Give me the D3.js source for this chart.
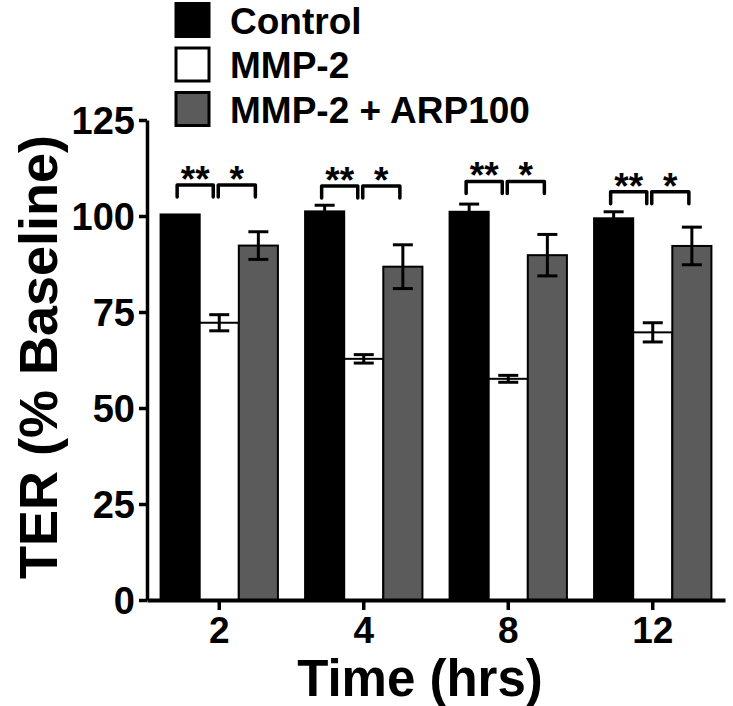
<!DOCTYPE html>
<html>
<head>
<meta charset="utf-8">
<script src="https://cdn.jsdelivr.net/npm/d3@7"></script>
<style>
  html, body { margin: 0; padding: 0; background: #fff; }
  svg { display: block; }
  text { font-family: "Liberation Sans", Arial, sans-serif; font-weight: bold; fill: #000; }
</style>
</head>
<body>
<svg id="chart" width="733" height="706"></svg>
<script>
// ---- data ----
const categories = ["2", "4", "8", "12"];
const seriesNames = ["Control", "MMP-2", "MMP-2 + ARP100"];
const controlMean = [100.4, 101.2, 101.1, 99.4];
const controlErr  = [0, 1.6, 2.0, 1.7];
const mmpMean     = [72.2, 62.8, 57.6, 69.7];
const mmpErr      = [2.1, 1.1, 0.9, 2.5];
const arpMean     = [92.3, 86.8, 89.8, 92.2];
const arpErr      = [3.6, 5.7, 5.4, 4.9];
const yTicks      = [0, 25, 50, 75, 100, 125];
const bracketY    = [108.1, 107.8, 109.0, 106.3];
const leftStars   = ["**", "**", "**", "**"];
const rightStars  = ["*", "*", "*", "*"];
const seriesColors = ["#000000", "#ffffff", "#5b5b5b"];

const svg = d3.select("#chart");

const x = d3.scaleBand().domain(categories).range([147, 725]).paddingInner(0.188).paddingOuter(0.094);
const xs = d3.scaleBand().domain(seriesNames).range([0, x.bandwidth()]);
const y = d3.scaleLinear().domain([0, 125]).range([600, 120]);

const means = [controlMean, mmpMean, arpMean];
const errs = [controlErr, mmpErr, arpErr];

const rows = [];
seriesNames.forEach((s, si) => {
  categories.forEach((c, ci) => {
    rows.push({ s, si, c, ci, v: means[si][ci], e: errs[si][ci] });
  });
});

// bars
svg.append("g").selectAll("rect").data(rows).join("rect")
  .attr("x", d => x(d.c) + xs(d.s))
  .attr("y", d => y(d.v))
  .attr("width", xs.bandwidth())
  .attr("height", d => y(0) - y(d.v))
  .attr("fill", d => seriesColors[d.si])
  .attr("stroke", "#000")
  .attr("stroke-width", 2);

// error bars
const capW = 10;
const eg = svg.append("g").attr("stroke", "#000").attr("stroke-width", 3);
rows.filter(d => d.e > 0).forEach(d => {
  const cx = x(d.c) + xs(d.s) + xs.bandwidth() / 2;
  eg.append("line").attr("x1", cx).attr("x2", cx).attr("y1", y(d.v + d.e)).attr("y2", y(d.v - d.e));
  eg.append("line").attr("x1", cx - capW).attr("x2", cx + capW).attr("y1", y(d.v + d.e)).attr("y2", y(d.v + d.e));
  eg.append("line").attr("x1", cx - capW).attr("x2", cx + capW).attr("y1", y(d.v - d.e)).attr("y2", y(d.v - d.e));
});

// significance brackets
const bg = svg.append("g");
categories.forEach((c, ci) => {
  const cC = x(c) + xs(seriesNames[0]) + xs.bandwidth() / 2;
  const cM = x(c) + xs(seriesNames[1]) + xs.bandwidth() / 2;
  const cG = x(c) + xs(seriesNames[2]) + xs.bandwidth() / 2;
  const top = y(bracketY[ci]);
  const leg = 12;
  const spans = [[cC - 3, cM - 6, leftStars[ci]], [cM - 1, cG - 3, rightStars[ci]]];
  spans.forEach(([x0, x1, txt]) => {
    bg.append("path")
      .attr("d", `M${x0},${top + leg}V${top}H${x1}V${top + leg}`)
      .attr("fill", "none").attr("stroke", "#000").attr("stroke-width", 3.5)
      .attr("stroke-linejoin", "round").attr("stroke-linecap", "round");
    bg.append("text").attr("x", (x0 + x1) / 2).attr("y", top + 7)
      .attr("text-anchor", "middle").style("font-size", "37px").text(txt);
  });
});

// y axis
const yAxis = svg.append("g").attr("transform", "translate(147,0)")
  .call(d3.axisLeft(y).tickValues(yTicks).tickSize(8).tickPadding(4).tickSizeOuter(0));
yAxis.select(".domain").attr("stroke-width", 3.5);
yAxis.selectAll(".tick line").attr("stroke-width", 3.5);
yAxis.selectAll(".tick text").style("font-size", "38px").attr("font-family", null).attr("dy", "0.36em");

// x axis
const xAxis = svg.append("g").attr("transform", "translate(0,600)")
  .call(d3.axisBottom(x).tickSize(10).tickPadding(8).tickSizeOuter(0));
xAxis.select(".domain").attr("stroke-width", 4);
xAxis.selectAll(".tick line").attr("stroke-width", 3.5);
xAxis.selectAll(".tick text").style("font-size", "37px").attr("font-family", null).attr("dy", "0.68em");

// axis titles
svg.append("text").attr("transform", "translate(57,357) rotate(-90)")
  .attr("text-anchor", "middle").style("font-size", "54px").text("TER (% Baseline)");
svg.append("text").attr("x", 420).attr("y", 696)
  .attr("text-anchor", "middle").style("font-size", "51px").text("Time (hrs)");

// legend
const lg = svg.append("g");
seriesNames.forEach((s, i) => {
  const ly = 2 + i * 44.5;
  lg.append("rect").attr("x", 176).attr("y", ly + 1.5).attr("width", 33).attr("height", 33)
    .attr("fill", seriesColors[i]).attr("stroke", "#000").attr("stroke-width", 3);
  lg.append("text").attr("x", 230).attr("y", ly + 31.5).style("font-size", "37px").text(s);
});
</script>
</body>
</html>
